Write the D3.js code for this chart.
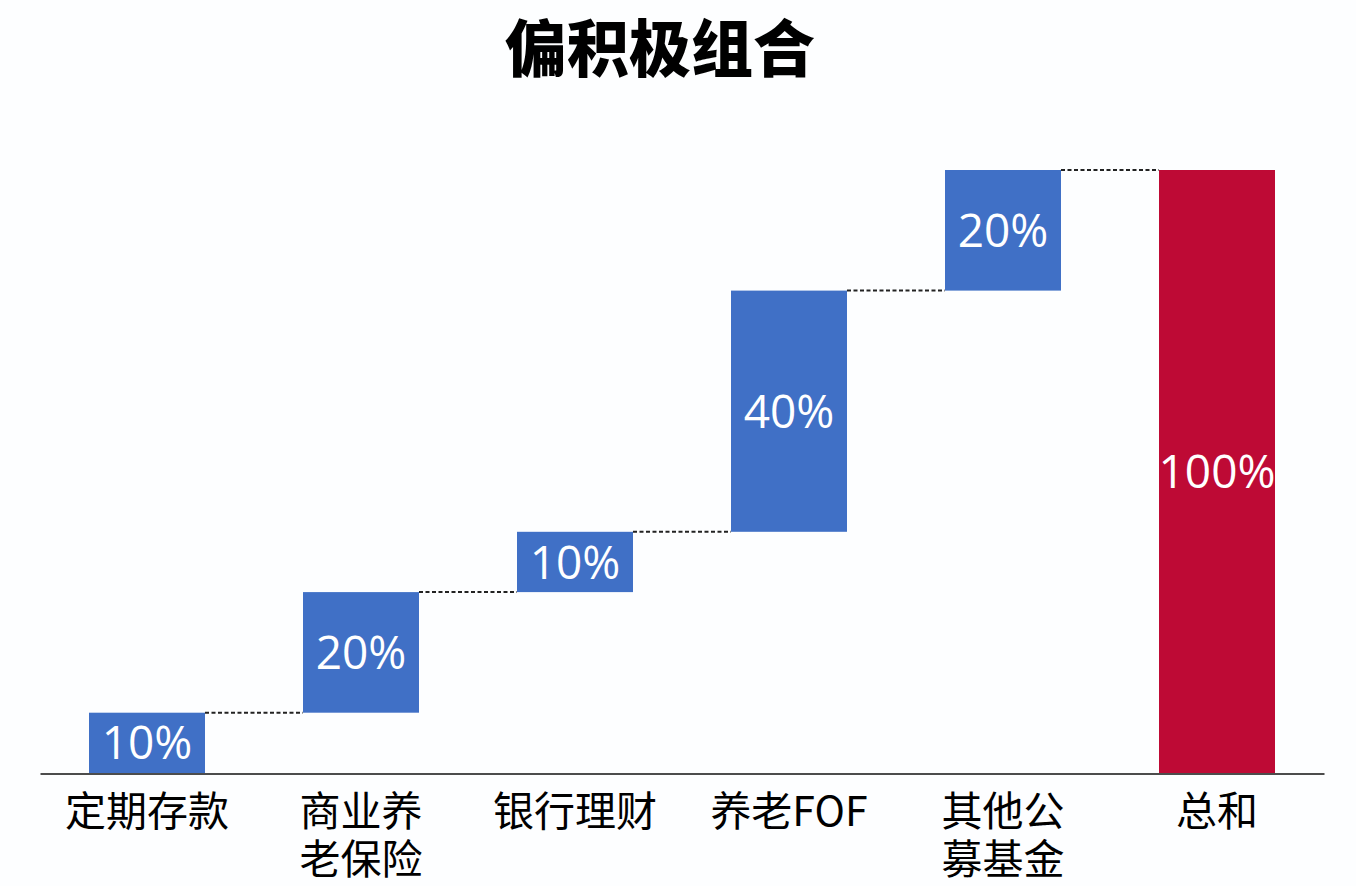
<!DOCTYPE html>
<html>
<head>
<meta charset="utf-8">
<script src="https://cdn.jsdelivr.net/npm/d3@7"></script>
<style>
html,body{margin:0;padding:0;background:#fdfeff;}
svg{display:block;}
</style>
</head>
<body>
<svg id="chart" width="1356" height="886"></svg>
<script>
const title = "偏积极组合";
const categories = ["定期存款", "商业养老保险", "银行理财", "养老FOF", "其他公募基金", "总和"];
const labelLines = [["定期存款"], ["商业养", "老保险"], ["银行理财"], ["养老FOF"], ["其他公", "募基金"], ["总和"]];
const values = [10, 20, 10, 40, 20, 100];
const isTotal = [false, false, false, false, false, true];
const valueLabels = ["10%", "20%", "10%", "40%", "20%", "100%"];

const svg = d3.select("#chart");

const x = d3.scaleBand().domain(categories).range([40, 1324]).paddingInner(0.458).paddingOuter(0.229);
const y = d3.scaleLinear().domain([0, 100]).range([773, 170]);

let cum = 0;
const data = categories.map((c, i) => {
  let start, end;
  if (isTotal[i]) { start = 0; end = values[i]; }
  else { start = cum; end = cum + values[i]; cum = end; }
  return {cat: c, start, end, total: isTotal[i], label: valueLabels[i], lines: labelLines[i]};
});

svg.append("text")
  .attr("x", 660).attr("y", 72)
  .attr("text-anchor", "middle")
  .attr("font-family", "'Noto Sans CJK SC', sans-serif")
  .attr("font-weight", 900)
  .attr("font-size", 62)
  .attr("fill", "#000")
  .text(title);

svg.selectAll("rect.bar").data(data).enter().append("rect")
  .attr("class", "bar")
  .attr("x", d => x(d.cat))
  .attr("width", x.bandwidth())
  .attr("y", d => y(d.end))
  .attr("height", d => y(d.start) - y(d.end))
  .attr("fill", d => d.total ? "#BE0A35" : "#4070C6");

for (let i = 0; i < data.length - 1; i++) {
  const lvl = data[i].end;
  svg.append("line")
    .attr("x1", x(data[i].cat) + x.bandwidth())
    .attr("x2", x(data[i + 1].cat))
    .attr("y1", y(lvl)).attr("y2", y(lvl))
    .attr("stroke", "#222")
    .attr("stroke-width", 2)
    .attr("stroke-dasharray", "4,2.5");
}

svg.selectAll("text.val").data(data).enter().append("text")
  .attr("class", "val")
  .attr("x", d => x(d.cat) + x.bandwidth() / 2)
  .attr("y", d => (y(d.start) + y(d.end)) / 2)
  .attr("dy", "0.36em")
  .attr("text-anchor", "middle")
  .attr("font-family", "'Open Sans', 'Noto Sans', sans-serif")
  .attr("font-weight", 500)
  .attr("font-size", 46)
  .attr("fill", "#fff")
  .text(d => d.label);

const axis = d3.axisBottom(x).tickSize(0).tickFormat("");
const gAxis = svg.append("g").attr("transform", "translate(0,773.5)").call(axis);
gAxis.select(".domain").attr("stroke", "#111").attr("stroke-width", 1.5);

const lab = svg.selectAll("text.cat").data(data).enter().append("text")
  .attr("class", "cat")
  .attr("x", d => x(d.cat) + x.bandwidth() / 2)
  .attr("y", 826)
  .attr("text-anchor", "middle")
  .attr("font-family", "'Noto Sans CJK SC', sans-serif")
  .attr("font-size", 41)
  .attr("fill", "#000");
lab.each(function(d) {
  const t = d3.select(this);
  d.lines.forEach((ln, j) => {
    t.append("tspan").attr("x", x(d.cat) + x.bandwidth() / 2).attr("dy", j === 0 ? 0 : 48).text(ln);
  });
});
</script>
</body>
</html>
